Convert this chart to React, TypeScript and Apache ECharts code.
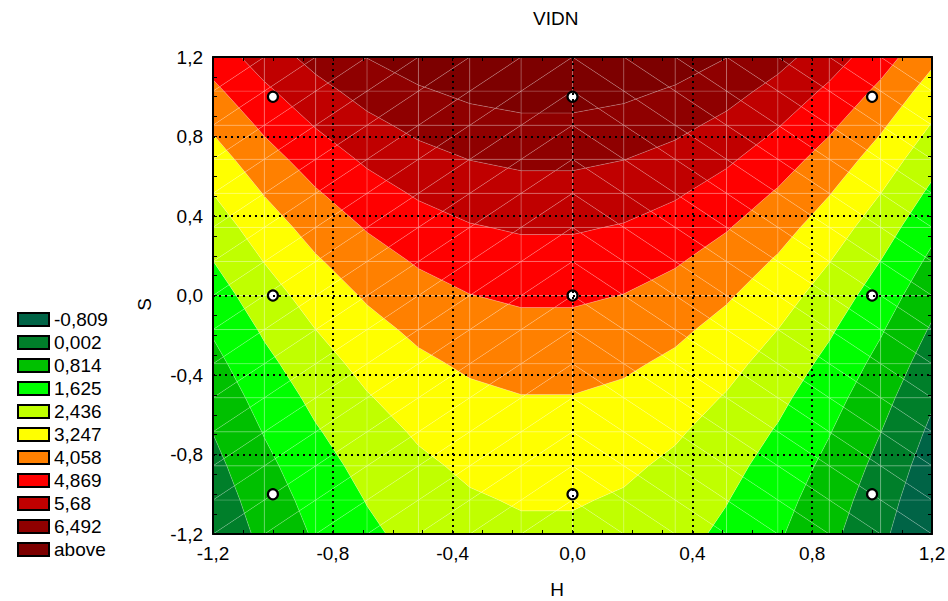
import React, { useEffect, useRef } from 'react';
import * as echarts from 'echarts';

// Design points (coded factor levels) and the measured response VIDN
const designH = [-1, 0, 1, -1, 0, 1, -1, 0, 1];
const designS = [-1, -1, -1, 0, 0, 0, 1, 1, 1];
const vidn = [0.56, 2.53, -0.26, 2.21, 4.18, 1.39, 4.76, 6.73, 3.94];

// Contour levels, legend texts and band colours (lowest band first)
const levels = [-0.809, 0.002, 0.814, 1.625, 2.436, 3.247, 4.058, 4.869, 5.68, 6.492];
const levelLabels = ['-0,809', '0,002', '0,814', '1,625', '2,436', '3,247', '4,058', '4,869', '5,68', '6,492', 'above'];
const levelColors = ['#006446', '#007f2a', '#00c000', '#00ff00', '#c0ff00', '#ffff00', '#ff8000', '#ff0000', '#c00000', '#8f0000', '#7d0000'];

// Axis range and the surface mesh resolution
const axisMin = -1.2;
const axisMax = 1.2;
const axisStep = 0.4;
const meshCells = 14;

const FONT = '"Liberation Sans", Arial, sans-serif';

type P3 = [number, number, number];

// Least-squares fit of a full quadratic model z = b0 + b1 H + b2 S + b11 H² + b22 S² + b12 HS
function fitQuadratic(h: number[], s: number[], z: number[]): number[] {
  const n = 6;
  const A = Array.from({ length: n }, () => new Array(n + 1).fill(0));
  h.forEach((x, k) => {
    const y = s[k];
    const r = [1, x, y, x * x, y * y, x * y];
    for (let i = 0; i < n; i++) {
      for (let j = 0; j < n; j++) A[i][j] += r[i] * r[j];
      A[i][n] += r[i] * z[k];
    }
  });
  for (let c = 0; c < n; c++) {
    let p = c;
    for (let r = c + 1; r < n; r++) if (Math.abs(A[r][c]) > Math.abs(A[p][c])) p = r;
    [A[c], A[p]] = [A[p], A[c]];
    for (let r = 0; r < n; r++) {
      if (r === c) continue;
      const f = A[r][c] / A[c][c];
      for (let j = c; j <= n; j++) A[r][j] -= f * A[c][j];
    }
  }
  return A.map((row, i) => row[n] / row[i]);
}

const coef = fitQuadratic(designH, designS, vidn);
const predict = (x: number, y: number) =>
  coef[0] + coef[1] * x + coef[2] * y + coef[3] * x * x + coef[4] * y * y + coef[5] * x * y;

// Triangulated mesh of the fitted surface
function buildTriangles(): P3[][] {
  const step = (axisMax - axisMin) / meshCells;
  const node = (i: number, j: number): P3 => {
    const x = axisMin + i * step;
    const y = axisMin + j * step;
    return [x, y, predict(x, y)];
  };
  const tris: P3[][] = [];
  const half = meshCells / 2;
  for (let j = 0; j < meshCells; j++) {
    for (let i = 0; i < meshCells; i++) {
      const a = node(i, j);
      const b = node(i + 1, j);
      const c = node(i + 1, j + 1);
      const d = node(i, j + 1);
      if (i < half) {
        tris.push([a, b, c], [a, c, d]);
      } else {
        tris.push([a, b, d], [b, c, d]);
      }
    }
  }
  return tris;
}

function clip(poly: P3[], t: number, keepAbove: boolean): P3[] {
  const out: P3[] = [];
  const inside = (p: P3) => (keepAbove ? p[2] >= t : p[2] <= t);
  for (let k = 0; k < poly.length; k++) {
    const p = poly[k];
    const q = poly[(k + 1) % poly.length];
    const pin = inside(p);
    const qin = inside(q);
    if (pin) out.push(p);
    if (pin !== qin) {
      const u = (t - p[2]) / (q[2] - p[2]);
      out.push([p[0] + u * (q[0] - p[0]), p[1] + u * (q[1] - p[1]), t]);
    }
  }
  return out;
}

const triangles = buildTriangles();

// Polygons of every filled band, in data coordinates
const bandPolygons: P3[][][] = levelLabels.map((_, k) => {
  const lo = k === 0 ? -Infinity : levels[k - 1];
  const hi = k === levels.length ? Infinity : levels[k];
  const res: P3[][] = [];
  triangles.forEach((tri) => {
    let poly = tri;
    if (isFinite(lo)) poly = clip(poly, lo, true);
    if (poly.length >= 3 && isFinite(hi)) poly = clip(poly, hi, false);
    if (poly.length >= 3) res.push(poly);
  });
  return res;
});

const tickFormatter = (v: number) => (Math.abs(v) < 1e-9 ? 0 : v).toFixed(1).replace('.', ',');

const axisLineStyle = { color: '#000', width: 2 };
const tickStyle = { color: '#000', width: 1 };

function frameAxis(position: string, extra: any) {
  return {
    type: 'value',
    min: axisMin,
    max: axisMax,
    interval: axisStep,
    position,
    z: 5,
    axisLine: { show: true, onZero: false, lineStyle: axisLineStyle },
    axisTick: { show: true, inside: true, length: 4, lineStyle: tickStyle },
    minorTick: { show: true, splitNumber: 4, length: 4, lineStyle: tickStyle },
    splitLine: { show: false },
    axisLabel: { show: false },
    ...extra,
  };
}

const labelStyle = { fontSize: 19, color: '#000', fontFamily: FONT };

const bandSeries = levelLabels.map((name, k) => ({
  type: 'custom',
  name,
  coordinateSystem: 'cartesian2d',
  xAxisIndex: 0,
  yAxisIndex: 0,
  z: 2,
  silent: true,
  clip: true,
  itemStyle: { color: levelColors[k] },
  encode: { x: 0, y: 1 },
  data: bandPolygons[k].map((poly, idx) => [poly[0][0], poly[0][1], idx]),
  renderItem: (params: any, api: any) => {
    const poly = bandPolygons[k][api.value(2)];
    return {
      type: 'polygon',
      shape: { points: poly.map((p) => api.coord([p[0], p[1]])) },
      style: { fill: levelColors[k], stroke: 'rgba(255,255,255,0.17)', lineWidth: 1 },
    };
  },
}));

const option: any = {
  animation: false,
  backgroundColor: '#fff',
  title: {
    text: 'VIDN',
    left: 533,
    top: 9,
    padding: 0,
    textStyle: { fontSize: 19, fontWeight: 'normal', color: '#000', fontFamily: FONT },
  },
  legend: {
    orient: 'vertical',
    left: 12,
    top: 305,
    data: levelLabels,
    icon: 'rect',
    itemWidth: 31,
    itemHeight: 13,
    itemGap: 4,
    itemTextGap: 12,
    selectedMode: false,
    itemStyle: { borderColor: '#000', borderWidth: 2 },
    textStyle: { ...labelStyle },
  },
  grid: { left: 213, right: 16, top: 57, bottom: 67, containLabel: false, outerBoundsMode: 'none' },
  xAxis: [
    frameAxis('bottom', {
      splitLine: { show: true, lineStyle: { color: '#000', width: 2, type: [2, 4] } },
      axisLabel: { show: true, formatter: tickFormatter, margin: 10, ...labelStyle },
      name: 'H',
      nameLocation: 'middle',
      nameGap: 46,
      nameTextStyle: { ...labelStyle, padding: [0, 31, 0, 0] },
    }),
    frameAxis('top', {}),
  ],
  yAxis: [
    frameAxis('left', {
      splitLine: { show: true, lineStyle: { color: '#000', width: 2, type: [2, 4] } },
      axisLabel: { show: true, formatter: tickFormatter, margin: 10, ...labelStyle },
      name: 'S',
      nameLocation: 'middle',
      nameGap: 59,
      nameTextStyle: { ...labelStyle, padding: [0, 18, 0, 0] },
    }),
    frameAxis('right', {}),
  ],
  series: [
    ...bandSeries,
    {
      type: 'scatter',
      name: 'design points',
      xAxisIndex: 0,
      yAxisIndex: 0,
      z: 3,
      silent: true,
      symbol: 'circle',
      symbolSize: 10,
      itemStyle: { color: '#fff', borderColor: '#000', borderWidth: 2.2, opacity: 1 },
      data: designH.map((h, i) => [h, designS[i]]),
    },
  ],
};

export default function App() {
  const ref = useRef<HTMLDivElement>(null);
  useEffect(() => {
    if (!ref.current) return;
    const chart = echarts.init(ref.current, null, { renderer: 'svg' });
    chart.setOption(option);
    return () => chart.dispose();
  }, []);
  return (
    <div
      ref={ref}
      style={{ position: 'fixed', left: 0, top: 0, width: 948, height: 601, background: '#fff' }}
    />
  );
}
